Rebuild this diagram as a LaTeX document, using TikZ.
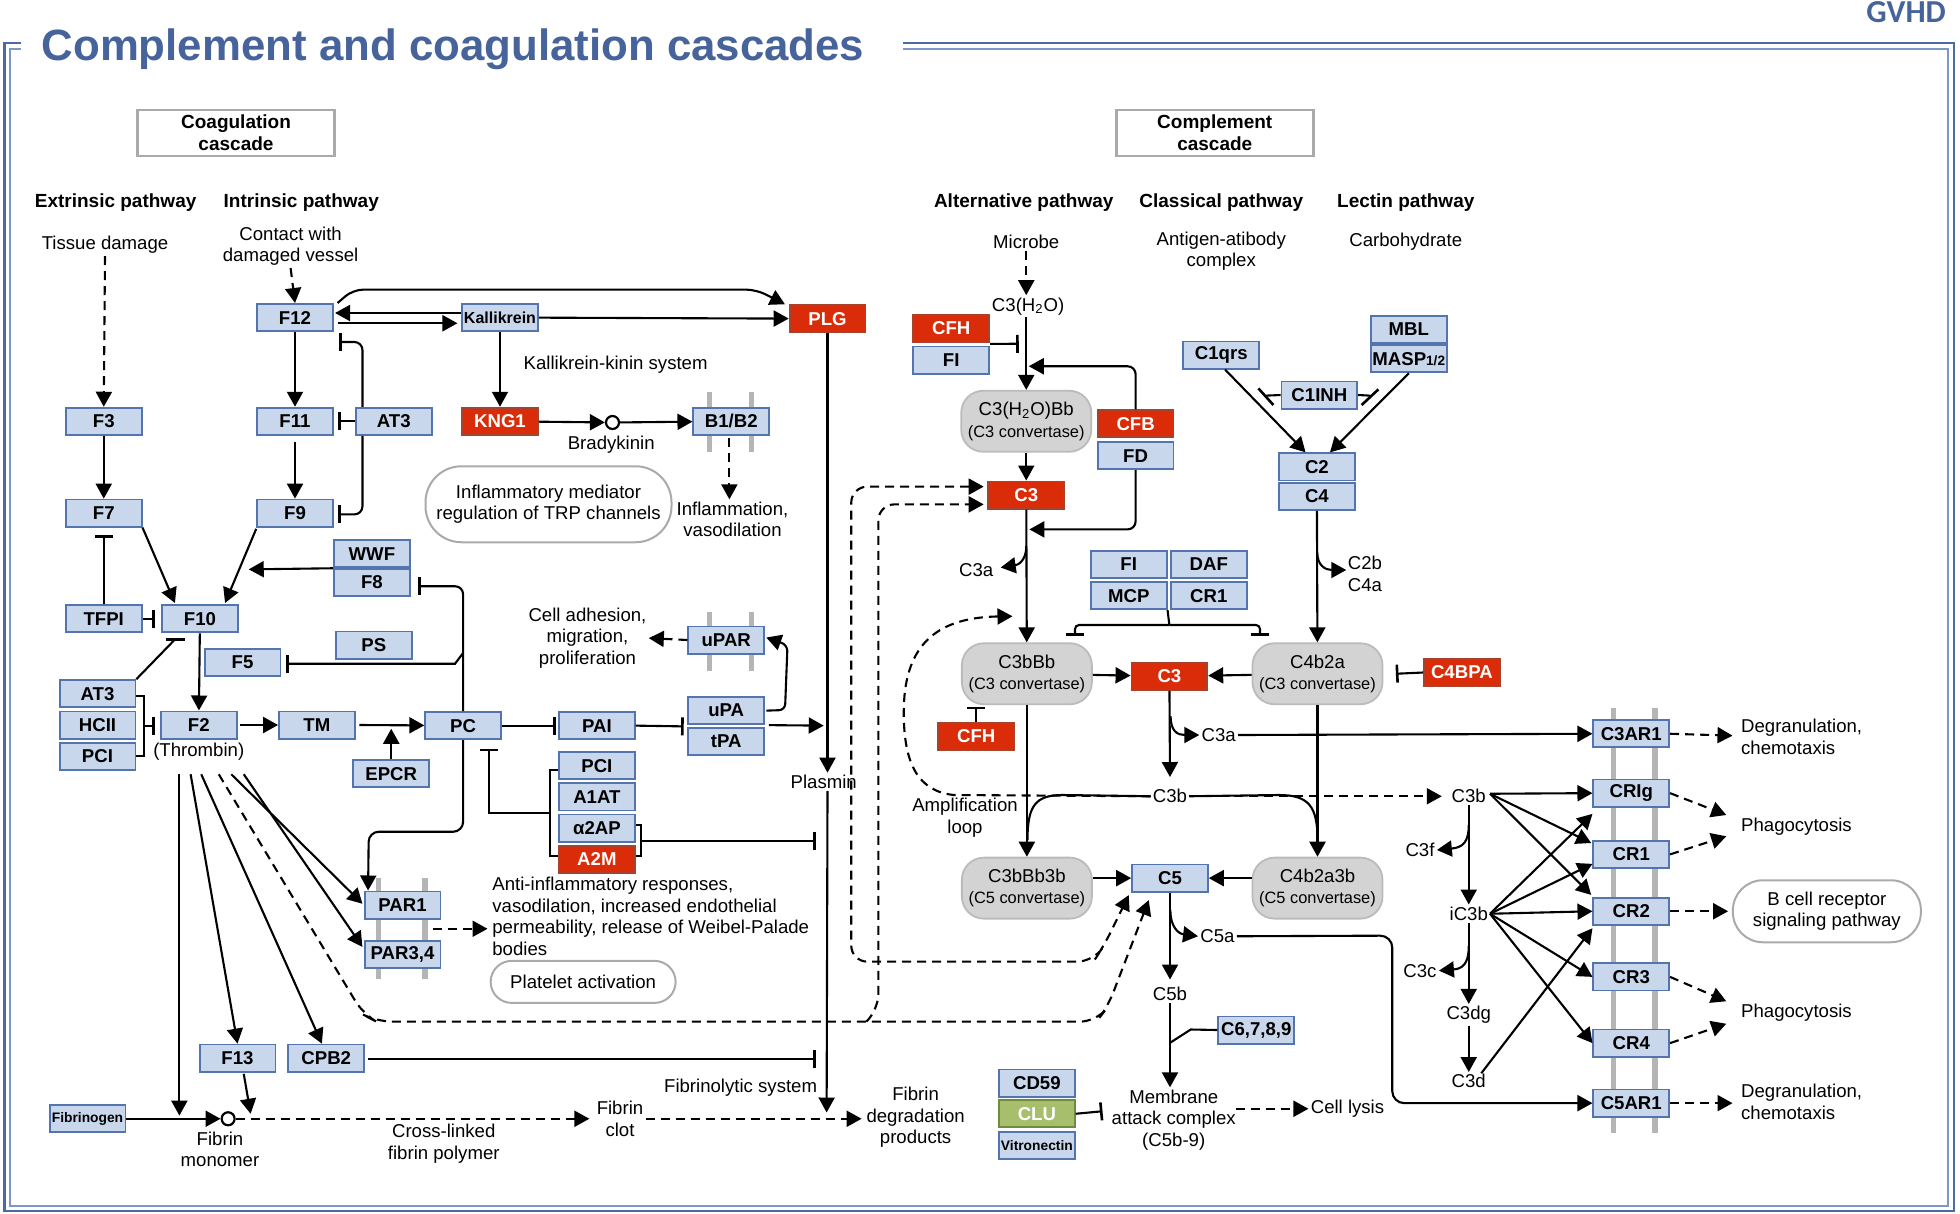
\documentclass[tikz,border=0pt]{standalone}
\usepackage{fontspec}
\setmainfont{Liberation Sans}
\newfontfamily\gvfont{Carlito}
\usetikzlibrary{arrows.meta,calc,backgrounds}
\definecolor{gnF}{HTML}{C8D7EC}
\definecolor{gnB}{HTML}{5374AC}
\definecolor{rdF}{HTML}{DA2C08}
\definecolor{rdB}{HTML}{A5432F}
\definecolor{grF}{HTML}{A7BF6C}
\definecolor{grB}{HTML}{6F8C3C}
\definecolor{cvF}{HTML}{D3D3D3}
\definecolor{cvB}{HTML}{BBBBBB}
\definecolor{rbB}{HTML}{AAAAAA}
\definecolor{frA}{HTML}{4A6BA6}
\definecolor{frB}{HTML}{7D98C8}
\definecolor{ttl}{HTML}{46639B}
\definecolor{barG}{HTML}{B5B5B5}
\newcommand\lblfont{\fontsize{9.3}{10.8}\selectfont}
\newcommand\cvsmall{\fontsize{8.2}{9.6}\selectfont}
\newcommand\boxfont{\bfseries\fontsize{9.3}{10}\selectfont}
\newcommand\smallbox{\bfseries\fontsize{6.9}{8}\selectfont}
\tikzset{
  gene/.style={draw=gnB, fill=gnF, line width=0.9pt, minimum width=37.9pt, minimum height=13.6pt, inner sep=0pt, font=\boxfont},
  rgene/.style={gene, fill=rdF, draw=rdB, text=white},
  ggene/.style={gene, fill=grF, draw=grB, text=white},
  conv/.style={draw=cvB, fill=cvF, line width=0.9pt, rounded corners=11pt, minimum width=65pt, minimum height=30.5pt, inner sep=0pt, align=center, font=\lblfont},
  lbl/.style={inner sep=1pt, align=center, font=\lblfont},
  hdr/.style={inner sep=1pt, font=\bfseries\fontsize{9.5}{11}\selectfont},
  rbox/.style={draw=rbB, line width=1pt, fill=white, align=center, font=\lblfont, inner sep=0pt},
  cbox/.style={draw=rbB, line width=1.4pt, minimum width=98.5pt, minimum height=23pt, align=center, inner sep=0pt, font=\bfseries\fontsize{9.5}{10.8}\selectfont},
  circ/.style={circle, draw, line width=1.1pt, fill=white, minimum size=6.5pt, inner sep=0pt},
  ln/.style={line width=1.05pt, black},
  arr/.style={ln, -{Triangle[length=7.5pt,width=8pt]}},
  inh/.style={ln, -{Bar[width=9pt,line width=1.3pt]}},
  dsh/.style={ln, dash pattern=on 4.5pt off 3pt},
  darr/.style={dsh, -{Triangle[length=7.5pt,width=8pt]}},
  ddarr/.style={dsh, {Triangle[length=7.5pt,width=8pt]}-{Triangle[length=7.5pt,width=8pt]}},
  rbar/.style={barG, line width=2.6pt},
  fo/.style={frA, line width=1.2pt},
  fi/.style={frB, line width=1pt},
}
\begin{document}
\begin{tikzpicture}[x=0.625pt,y=-0.625pt]
\useasboundingbox (0,0) rectangle (1568,971);
% ---------- frame and title
\draw[fo] (17,34.5) -- (3.5,34.5) -- (3.5,969) -- (1563,969) -- (1563,34.5) -- (722,34.5);
\draw[fi] (17,39) -- (8,39) -- (8,964.5) -- (1558.5,964.5) -- (1558.5,39) -- (722,39);
\node[anchor=base west, text=ttl, font=\bfseries\fontsize{21.9}{24}\selectfont, inner sep=0pt] (title) at (33,48) {Complement and coagulation cascades};
\node[anchor=base east, text=ttl, font=\gvfont\bfseries\fontsize{16}{18}\selectfont, inner sep=0pt] (gvhd) at (1557,18) {GVHD};
\node[cbox] (coagbox) at (188.8,106.4) {Coagulation\\cascade};
\node[cbox] (compbox) at (971.8,106.4) {Complement\\cascade};
% ---------- headers and texts
\node[hdr] (hext) at (92.5,162) {Extrinsic pathway};
\node[hdr] (hint) at (241,162) {Intrinsic pathway};
\node[hdr] (halt) at (819,162) {Alternative pathway};
\node[hdr] (hcls) at (977,162) {Classical pathway};
\node[hdr] (hlec) at (1124.6,162) {Lectin pathway};
\node[lbl] (tissue) at (84,196) {Tissue damage};
\node[lbl] (contact) at (232.5,197) {Contact with\\damaged vessel};
\node[lbl] (microbe) at (821,193.5) {Microbe};
\node[lbl] (antigen) at (977,201) {Antigen-atibody\\complex};
\node[lbl] (carbo) at (1124.6,193.5) {Carbohydrate};
\node[lbl] (kks) at (492.5,292) {Kallikrein-kinin system};
\node[lbl] (brady) at (489,356) {Bradykinin};
\node[rbox, minimum width=123pt, minimum height=38pt, rounded corners=18pt] (inflmed) at (438.8,403.4) {Inflammatory mediator\\regulation of TRP channels};
\node[lbl] (inflam) at (586,415.5) {Inflammation,\\vasodilation};
\node[lbl] (celladh) at (470,510.5) {Cell adhesion,\\migration,\\proliferation};
\node[lbl] (plasmin) at (659,625.5) {Plasmin};
\node[lbl, anchor=west, align=left] (antiinf) at (392,733) {Anti-inflammatory responses,\\vasodilation, increased endothelial\\permeability, release of Weibel-Palade\\bodies};
\node[rbox, minimum width=92.5pt, minimum height=21pt, rounded corners=10.5pt] (platelet) at (466.5,785.5) {Platelet activation};
\node[lbl] (fibmono) at (176,919.5) {Fibrin\\monomer};
\node[lbl] (crosslink) at (355,915) {Cross-linked\\fibrin polymer};
\node[lbl] (clot) at (496,895) {Fibrin\\clot};
\node[lbl] (fibsys) at (592.5,870) {Fibrinolytic system};
\node[lbl] (fdp) at (732.5,894) {Fibrin\\degradation\\products};
% ---------- coagulation genes
\node[gene] (f3) at (83,337) {F3};
\node[gene] (f7) at (83,410.5) {F7};
\node[gene] (tfpi) at (83,495) {TFPI};
\node[gene] (f10) at (160,495) {F10};
\node[gene] (f12) at (236,254) {F12};
\node[gene, font=\smallbox\fontsize{8}{9}\selectfont] (kal) at (400,254) {Kallikrein};
\node[rgene] (plg) at (662,255) {PLG};
\node[gene] (f11) at (236,337) {F11};
\node[gene] (at3a) at (315,337) {AT3};
\node[rgene] (kng1) at (400,337) {KNG1};
\node[gene] (b1b2) at (585,337) {B1/B2};
\node[circ] (brcirc) at (490,338) {};
\node[gene] (f9) at (236,410.5) {F9};
\node[gene] (wwf) at (297.5,443) {WWF};
\node[gene] (f8) at (297.5,466) {F8};
\node[gene] (ps) at (299,516) {PS};
\node[gene] (f5) at (194,530) {F5};
\node[gene] (at3b) at (78,555) {AT3};
\node[gene] (hcii) at (78,580) {HCII};
\node[gene] (pci1) at (78,605) {PCI};
\node[gene] (f2) at (159,580) {F2};
\node[lbl] (thr) at (159,601) {(Thrombin)};
\node[gene] (tm) at (253.5,580) {TM};
\node[gene] (epcr) at (313,619) {EPCR};
\node[gene] (pc) at (370.5,580.5) {PC};
\node[gene] (pai) at (477.5,580.5) {PAI};
\node[gene] (upa) at (581,568.5) {uPA};
\node[gene] (tpa) at (581,593) {tPA};
\node[gene] (upar) at (581,512) {uPAR};
\node[gene] (pci2) at (477.5,612.5) {PCI};
\node[gene] (a1at) at (477.5,637.5) {A1AT};
\node[gene] (a2ap) at (477.5,662.5) {α2AP};
\node[rgene] (a2m) at (477.5,687.5) {A2M};
\node[gene] (par1) at (322,724) {PAR1};
\node[gene] (par34) at (322,763.5) {PAR3,4};
\node[gene] (f13) at (190,846.5) {F13};
\node[gene] (cpb2) at (261,846.5) {CPB2};
\node[gene, font=\smallbox] (fbg) at (70,895) {Fibrinogen};
\node[circ] (fmcirc) at (182.5,895) {};
% ---------- complement genes
\node[lbl] (c3h2o) at (822.5,245) {C3(H\textsubscript{2}O)};
\node[rgene] (cfh1) at (761,262.5) {CFH};
\node[gene] (fi1) at (761,288) {FI};
\node[conv] (c3h2obb) at (821,337) {C3(H\textsubscript{2}O)Bb\\{\cvsmall (C3 convertase)}};
\node[rgene] (cfb) at (908.5,339) {CFB};
\node[gene] (fd) at (908.5,364.5) {FD};
\node[rgene] (c3top) at (821,396) {C3};
\node[lbl] (c3alab1) at (781,456) {C3a};
\node[gene] (fi2) at (903,451.5) {FI};
\node[gene] (daf) at (967,451.5) {DAF};
\node[gene] (mcp) at (903,476.5) {MCP};
\node[gene] (cr1a) at (967,476.5) {CR1};
\node[conv] (c3bbb) at (821.5,539) {C3bBb\\{\cvsmall (C3 convertase)}};
\node[rgene] (c3mid) at (935.5,541) {C3};
\node[conv] (c4b2a) at (1054,539) {C4b2a\\{\cvsmall (C3 convertase)}};
\node[rgene] (c4bpa) at (1169.5,538) {C4BPA};
\node[rgene] (cfh2) at (781,589) {CFH};
\node[lbl] (c3alab2) at (975,588) {C3a};
\node[gene] (c3ar1) at (1305,587) {C3AR1};
\node[lbl] (c3blab) at (936,637) {C3b};
\node[lbl] (c3brt) at (1175,637) {C3b};
\node[lbl] (amp) at (772,654) {Amplification\\loop};
\node[gene] (crig) at (1305,634.5) {CRIg};
\node[gene] (cr1b) at (1305,683.5) {CR1};
\node[gene] (cr2) at (1305,729) {CR2};
\node[gene] (cr3) at (1305,781.5) {CR3};
\node[gene] (cr4) at (1305,834.5) {CR4};
\node[gene] (c5ar1) at (1305,882.5) {C5AR1};
\node[lbl] (c3f) at (1136,680) {C3f};
\node[lbl] (ic3b) at (1175,731) {iC3b};
\node[lbl] (c3c) at (1136,776.5) {C3c};
\node[lbl] (c3dg) at (1175,812) {C3dg};
\node[lbl] (c3d) at (1175,865) {C3d};
\node[conv] (c3bbb3b) at (821.5,710.5) {C3bBb3b\\{\cvsmall (C5 convertase)}};
\node[gene] (c5) at (936,702.5) {C5};
\node[conv] (c4b2a3b) at (1054,710.5) {C4b2a3b\\{\cvsmall (C5 convertase)}};
\node[lbl] (c5a) at (974,749) {C5a};
\node[lbl] (c5b) at (936,795) {C5b};
\node[gene] (c6789) at (1005,824) {C6,7,8,9};
\node[gene] (cd59) at (829.5,866.5) {CD59};
\node[ggene] (clu) at (829.5,891) {CLU};
\node[gene, font=\smallbox] (vitro) at (829.5,916.5) {Vitronectin};
\node[lbl] (mac) at (939,896) {Membrane\\attack complex\\(C5b-9)};
\node[lbl] (lysis) at (1078,887) {Cell lysis};
\node[gene] (c1qrs) at (977,284) {C1qrs};
\node[gene] (mbl) at (1127,263.5) {MBL};
\node[gene] (masp) at (1127,287) {MASP{\fontsize{6.8}{7}\selectfont 1/2}};
\node[gene] (c1inh) at (1055.5,316) {C1INH};
\node[gene] (c2) at (1053.5,373.5) {C2};
\node[gene] (c4) at (1053.5,397) {C4};
\node[lbl] (c2b) at (1092,459) {C2b\\C4a};
\node[lbl, anchor=west, align=left] (deg1) at (1391,589.5) {Degranulation,\\chemotaxis};
\node[lbl, anchor=west] (phag1) at (1391,661) {Phagocytosis};
\node[rbox, minimum width=94pt, minimum height=31pt, rounded corners=15pt] (bcell) at (1461.5,729) {B cell receptor\\signaling pathway};
\node[lbl, anchor=west] (phag2) at (1391,810.5) {Phagocytosis};
\node[lbl, anchor=west, align=left] (deg2) at (1391,881.5) {Degranulation,\\chemotaxis};
% ---------- free coordinates
\coordinate (f10in) at (199,455.5);
\coordinate (brk1) at (115,581);
\coordinate (pcf5) at (370,523);
\coordinate (tmpc) at (313,583);
\coordinate (plgj) at (659,580.5);
\coordinate (brk2) at (440,650.7);
\coordinate (pcbar) at (391,599);
\coordinate (brk3) at (512.5,672.6);
\coordinate (plbar1) at (652.5,672.6);
\coordinate (plbar2) at (652.5,847);
\coordinate (fdpj) at (661.3,890);
\coordinate (th1) at (143.5,619.4);
\coordinate (th2) at (152.5,619.4);
\coordinate (th3) at (161,619.4);
\coordinate (th4) at (175,619.4);
\coordinate (th5) at (185,619.4);
\coordinate (th6) at (195,619.4);
\coordinate (fbj) at (143.5,892.5);
\coordinate (f13tip) at (200.5,891);
\coordinate (parj) at (346,743);
\coordinate (antitip) at (390,743);
\coordinate (dj) at (693,817.3);
\coordinate (cfhbar) at (815,275);
\coordinate (cfbtip) at (823,293);
\coordinate (fdtip) at (823.5,423.5);
\coordinate (fij) at (935.5,500);
\coordinate (barl) at (860,508.5);
\coordinate (barr) at (1008,508.5);
\coordinate (cfh2bar) at (781,565.5);
\coordinate (c2btip) at (1077,456);
\coordinate (c3bs) at (1192,635);
\coordinate (ic3bs) at (1192,731);
\coordinate (macbar) at (882,889);
\coordinate (c69j) at (936.4,834);
% ---------- coagulation edges
\draw[darr] (tissue.south) -- (f3.north);
\draw[darr] (contact.south) -- (f12.north);
\draw[arr] (f3) -- (f7);
\draw[arr] (f12) -- (f11);
\draw[arr] ($(f11.south)+(0,5)$) -- (f9.north);
\draw[arr] ($(kal.west)+(0,-3.6)$) -- ($(f12.east)+(1,-3.6)$);
\draw[arr] ($(f12.east)+(3,4.6)$) -- ($(kal.west)+(-3,4.6)$);
\draw[arr, rounded corners=5pt] ($(f12.north east)+(3,0)$) -- (282.5,231.7) -- (605,231.7) -- ($(plg.north west)+(-3,0)$);
\draw[arr] (kal) -- (plg);
\draw[arr] (kal) -- (kng1);
\draw[arr] (kng1) -- (brcirc);
\draw[arr] (brcirc) -- (b1b2);
\draw[darr] ($(b1b2.south)+(-1.5,2)$) -- ($(inflam.north)+(-2.5,0)$);
\draw[inh] (at3a.west) -- ($(f11.east)+(3.5,0)$);
\draw[inh, rounded corners=4pt] ($(at3a.north west)+(6,0)$) |- ($(f12.south east)+(4.5,8)$);
\draw[inh, rounded corners=4pt] ($(at3a.south west)+(6,0)$) |- ($(f9.east)+(3.5,1)$);
\draw[arr] (f7.south east) -- ($(f10.north west)+(11,-1)$);
\draw[arr] ($(f9.south west)+(0,1)$) -- ($(f10.north east)+(-11,-1)$);
\draw[inh] (tfpi.north) -- ($(f7.south)+(0,6)$);
\draw[inh] (tfpi.east) -- ($(f10.west)+(-5,0)$);
\draw[arr] (wwf.south west) -- (f10in);
\draw[inh, rounded corners=4pt] (pc.north) |- ($(f8.east)+(6,3)$);
\draw[inh] (pcf5) -- (364,531) -- ($(f5.east)+(4,1)$);
\draw[ln] ($(at3b.east)+(0,2)$) -| ($(pci1.east)+(6,0)$) -- (pci1.east);
\draw[inh] (brk1) -- ($(f2.west)+(-4,1)$);
\draw[ln] (at3b.north east) -- (140,511.5);
\draw[ln, line width=1.3pt] (132.5,511.5) -- (148,511.5);
\draw[arr] (f10) -- (f2);
\draw[arr] ($(f2.east)+(2,0)$) -- (tm);
\draw[arr] ($(tm.east)+(3,0)$) -- (pc);
\draw[arr] (epcr.north) -- (tmpc);
\draw[inh] (pc.east) -- ($(pai.west)+(-2,0)$);
\draw[inh] (pai.east) -- ($(upa.south west)+(-3,1)$);
\draw[arr, rounded corners=3pt] ($(upa.east)+(1,0)$) -- (628,568) -- (630,516) -- ($(upar.east)+(1,-2)$);
\draw[darr] (upar.west) -- (celladh.east);
\draw[arr] ($(upa.south east)+(3,0)$) -- (plgj);
\draw[arr] (plg.south) -- (plg.south |- plasmin.north);
\draw[arr] (plg.south |- plasmin.south) -- (fdpj);
\draw[ln] ($(pci2.west)+(0,3.5)$) -- ++(-6.5,0) |- ($(a2m.west)+(0,-2.5)$);
\draw[inh] (brk2) -| (pcbar);
\draw[ln] ($(a2ap.east)+(0,-2.5)$) -- ++(4,0) |- ($(a2m.east)+(0,-2.5)$);
\draw[inh] (brk3) -- (plbar1);
\draw[arr, rounded corners=5pt] (pc.south) |- (295,665.4) -- ($(par1.north west)+(3.5,0)$);
\draw[arr] (th1) -- (fbj);
\draw[arr] (th2) -- (f13.north);
\draw[arr] (th3) -- ($(cpb2.north)+(-3.5,0)$);
\draw[arr] (th5) -- ($(par1.west)+(-1,-1)$);
\draw[arr] (th6) -- ($(par34.west)+(-1,-6)$);
\draw[darr, rounded corners=8pt] (th4) -- (291,812) -- (301,817.3) -- (877,817.3) -- (886,806) -- ($(c5.south)+(-17,6)$);
\draw[darr, rounded corners=8pt] (dj) -- (702.7,808) -- (702.7,403.5) -- ($(c3top.west)+(-3,7.5)$);
\draw[ddarr, rounded corners=8pt] ($(c3top.west)+(-3,-6.7)$) -- (681,389.3) -- (681,769.3) -- (874.7,769.3) -- (883,757) -- ($(c5.south)+(-33,2)$);
\draw[darr] (parj) -- (antitip);
\draw[inh] ($(cpb2.east)+(2.5,0.5)$) -- (plbar2);
\draw[arr] ($(f13.south)+(5,1)$) -- (f13tip);
\draw[arr] (fbg.east) -- (fmcirc.west);
\draw[darr] (fmcirc.east) -- ($(clot.west)+(-4,0)$);
\draw[darr] (clot.east) -- ($(fdp.west)+(-2,1)$);
% ---------- complement edges
\draw[darr] (microbe.south) -- (microbe.south |- c3h2o.north);
\draw[arr] (c3h2o.south -| c3h2obb.north) -- (c3h2obb.north);
\draw[inh] ($(cfh1.south east)+(0,1)$) -- (cfhbar);
\draw[arr, rounded corners=4pt] (cfb.north) |- (cfbtip);
\draw[arr] (c3h2obb) -- (c3top);
\draw[arr, rounded corners=4pt] (fd.south) |- (fdtip);
\draw[arr] (c3top) -- (c3bbb);
\draw[arr] (821,437) .. controls (821,449) and (814,452) .. ($(c3alab1.east)+(4,-2)$);
\draw[ln] (mcp.south east) -- (fij);
\draw[inh, rounded corners=2pt] (fij) -| (barl);
\draw[inh, rounded corners=2pt] (fij) -| (barr);
\draw[arr] (c3bbb) -- (c3mid);
\draw[arr] (c4b2a) -- (c3mid);
\draw[inh] (c4bpa.west) -- ($(c4b2a.east)+(10,0)$);
\draw[inh] (cfh2.north) -- (cfh2bar);
\draw[arr] (c4) -- (c4b2a);
\draw[arr] (1053.8,442) .. controls (1053.8,452) and (1060,456) .. (c2btip);
\draw[arr] ($(c1qrs.south)+(3,0)$) -- ($(c2.north west)+(22,0)$);
\draw[arr] (masp.south) -- ($(c2.north)+(10.5,0)$);
\draw[ln] (c1inh.west) -- (1012.8,316.5);
\draw[ln, line width=1.3pt] (1006.7,310.7) -- (1018.7,324);
\draw[ln] (c1inh.east) -- (1096,316.5);
\draw[ln, line width=1.3pt] (1089.3,324) -- (1102.7,311.5);
\draw[darr] (c3blab.west) -- (763,636) .. controls (735,633) and (723,612) .. (723,570) .. controls (723,520) and (745,494) .. (810,493);
\draw[darr] (c3blab.east) -- ($(c3brt.west)+(-6,0)$);
\draw[arr] (c3mid) -- ($(c3blab.north)+(0,-8)$);
\draw[arr] (936.5,573) .. controls (936.5,585) and (942,588) .. (c3alab2.west);
\draw[arr] (c3alab2.east) -- (c3ar1.west);
\draw[darr] (c3ar1.east) -- ($(deg1.west)+(-5,-1)$);
\draw[ln] (c3blab.west) -- (850,636) .. controls (828,636) and (822,645) .. (822,672);
\draw[ln] (c3blab.east) -- (1023,636) .. controls (1047,636) and (1054,645) .. (1054,672);
\draw[arr] (c3bbb) -- (c3bbb3b);
\draw[arr] (c4b2a) -- (c4b2a3b);
\draw[arr] (c3bbb3b.east |- c5.west) -- (c5.west);
\draw[arr] (c4b2a3b.west |- c5.east) -- (c5.east);
\draw[arr] (c5) -- ($(c5b.north)+(0,-4)$);
\draw[arr] (936.3,728) .. controls (936.3,742) and (943,747) .. (c5a.west);
\draw[arr, rounded corners=6pt] (c5a.east) -- (1113.8,748.5) -- (1113.8,882.5) -- (c5ar1.west);
\draw[arr] (c5b.south) -- (c5b.south |- mac.north);
\draw[ln] (c6789.west) -- (952.6,823.6) -- (c69j);
\draw[inh] (clu.east) -- (macbar);
\draw[darr] ($(mac.east)+(-2,-9)$) -- (lysis.west);
\draw[arr] (c3brt) -- (ic3b);
\draw[arr] (1175,660) .. controls (1175,674) and (1170,678) .. (c3f.east);
\draw[arr] (ic3b) -- (c3dg);
\draw[arr] (1175,757) .. controls (1175,771) and (1170,775) .. (c3c.east);
\draw[arr] (c3dg) -- (c3d);
\draw[arr] (c3bs) -- (crig.west);
\draw[arr] (c3bs) -- ($(cr1b.north west)+(-1,2.5)$);
\draw[arr] (c3bs) -- ($(cr2.north west)+(-1,-1.5)$);
\draw[arr] (ic3bs) -- ($(crig.south west)+(0,5)$);
\draw[arr] (ic3bs) -- ($(cr1b.south west)+(0,-4)$);
\draw[arr] (ic3bs) -- (cr2.west);
\draw[arr] (ic3bs) -- (cr3.west);
\draw[arr] (ic3bs) -- (cr4.west);
\draw[arr] ($(c3d.north)+(10,1)$) -- ($(cr2.south west)+(0,2)$);
\draw[darr] (crig.east) -- (1381,652);
\draw[darr] (cr1b.east) -- (1381,669);
\draw[darr] (cr2.east) -- ($(bcell.west)+(-3,0)$);
\draw[darr] (cr3.east) -- (1381,801);
\draw[darr] (cr4.east) -- (1381,819);
\draw[darr] (c5ar1.east) -- ($(deg2.west)+(-5,1)$);
% ---------- receptor membrane bars
\begin{pgfonlayer}{background}
\draw[rbar] (567.5,313.7) -- (567.5,361.2);
\draw[rbar] (601,313.7) -- (601,361.2);
\draw[rbar] (567.5,489.4) -- (567.5,537);
\draw[rbar] (601,489.4) -- (601,537);
\draw[rbar] (302.5,702.4) -- (302.5,783);
\draw[rbar] (340,702.4) -- (340,783);
\draw[rbar] (1290.7,566) -- (1290.7,906);
\draw[rbar] (1324,566) -- (1324,906);
\end{pgfonlayer}
\end{tikzpicture}
\end{document}
